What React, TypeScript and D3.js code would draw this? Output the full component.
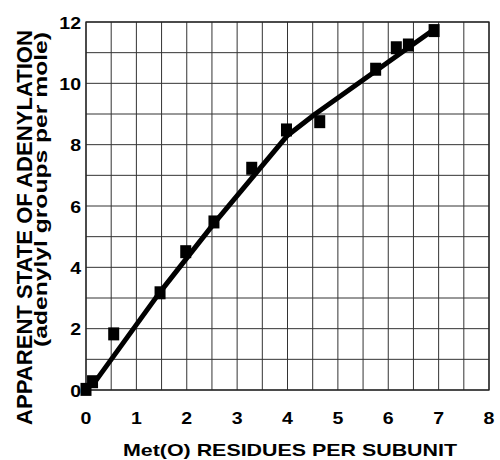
import React from "react";
import * as d3 from "d3";

const pointX = [0.0, 0.13, 0.55, 1.47, 1.98, 2.54, 3.29, 3.98, 4.64, 5.75, 6.16, 6.4, 6.91];
const pointY = [0.02, 0.27, 1.83, 3.17, 4.51, 5.48, 7.23, 8.48, 8.75, 10.46, 11.16, 11.25, 11.72];
const fitX = [0.15, 1.45, 2.55, 4.0, 4.55, 5.75, 6.9];
const fitY = [0.2, 3.15, 5.45, 8.3, 9.0, 10.4, 11.75];
const xTicks = [0, 1, 2, 3, 4, 5, 6, 7, 8];
const yTicks = [0, 2, 4, 6, 8, 10, 12];
const xTitle = "Met(O) RESIDUES PER SUBUNIT";
const yTitle = "APPARENT STATE OF ADENYLATION";
const yTitle2 = "(adenylyl groups per mole)";

const FONT = "'Liberation Sans', Arial, Helvetica, sans-serif";

export default function App() {
  const x = d3.scaleLinear().domain([0, 8]).range([86, 489]);
  const y = d3.scaleLinear().domain([0, 12]).range([390, 22]);
  const vGrid = d3.range(0, 8.01, 0.5);
  const hGrid = d3.range(0, 12.01, 1);
  const line = d3
    .line<number>()
    .x((_, i) => x(fitX[i]))
    .y((_, i) => y(fitY[i]))
    .curve(d3.curveLinear);
  const pts = pointX.map((v, i) => ({ x: v, y: pointY[i] }));

  return (
    <svg
      width={500}
      height={460}
      style={{ position: "absolute", left: 0, top: 0, background: "#fff" }}
      fontFamily={FONT}
    >
      <rect x={0} y={0} width={500} height={460} fill="#fff" />
      {vGrid.map((g) => (
        <line key={"v" + g} x1={x(g)} x2={x(g)} y1={y(0)} y2={y(12)} stroke="#333" strokeWidth={1} />
      ))}
      {hGrid.map((g) => (
        <line key={"h" + g} x1={x(0)} x2={x(8)} y1={y(g)} y2={y(g)} stroke="#333" strokeWidth={1} />
      ))}
      <rect x={x(0)} y={y(12)} width={x(8) - x(0)} height={y(0) - y(12)} fill="none" stroke="#222" strokeWidth={1.3} />
      <path d={line(fitX) || ""} fill="none" stroke="#000" strokeWidth={5} strokeLinejoin="round" />
      {pts.map((p, i) => (
        <rect key={i} x={x(p.x) - 5.5} y={y(p.y) - 6.5} width={11} height={13} fill="#000" />
      ))}
      {xTicks.map((t) => (
        <text
          key={"xt" + t}
          transform={`translate(${x(t)},423.5) scale(1.15,1)`}
          textAnchor="middle"
          fontSize={17}
          fontWeight="bold"
        >
          {t}
        </text>
      ))}
      {yTicks.map((t) => (
        <text
          key={"yt" + t}
          transform={`translate(81,${y(t) + 6.5}) scale(1.15,1)`}
          textAnchor="end"
          fontSize={17}
          fontWeight="bold"
        >
          {t}
        </text>
      ))}
      <text x={290} y={455.7} textAnchor="middle" fontSize={17} fontWeight="bold" textLength={334} lengthAdjust="spacingAndGlyphs">
        {xTitle}
      </text>
      <text
        transform="translate(31.5,227.5) rotate(-90)"
        textAnchor="middle"
        fontSize={22}
        fontWeight="bold"
        textLength={395}
        lengthAdjust="spacingAndGlyphs"
      >
        {yTitle}
      </text>
      <text
        transform="translate(46.5,189.5) rotate(-90)"
        textAnchor="middle"
        fontSize={18}
        fontWeight="bold"
        textLength={315}
        lengthAdjust="spacingAndGlyphs"
      >
        {yTitle2}
      </text>
    </svg>
  );
}
